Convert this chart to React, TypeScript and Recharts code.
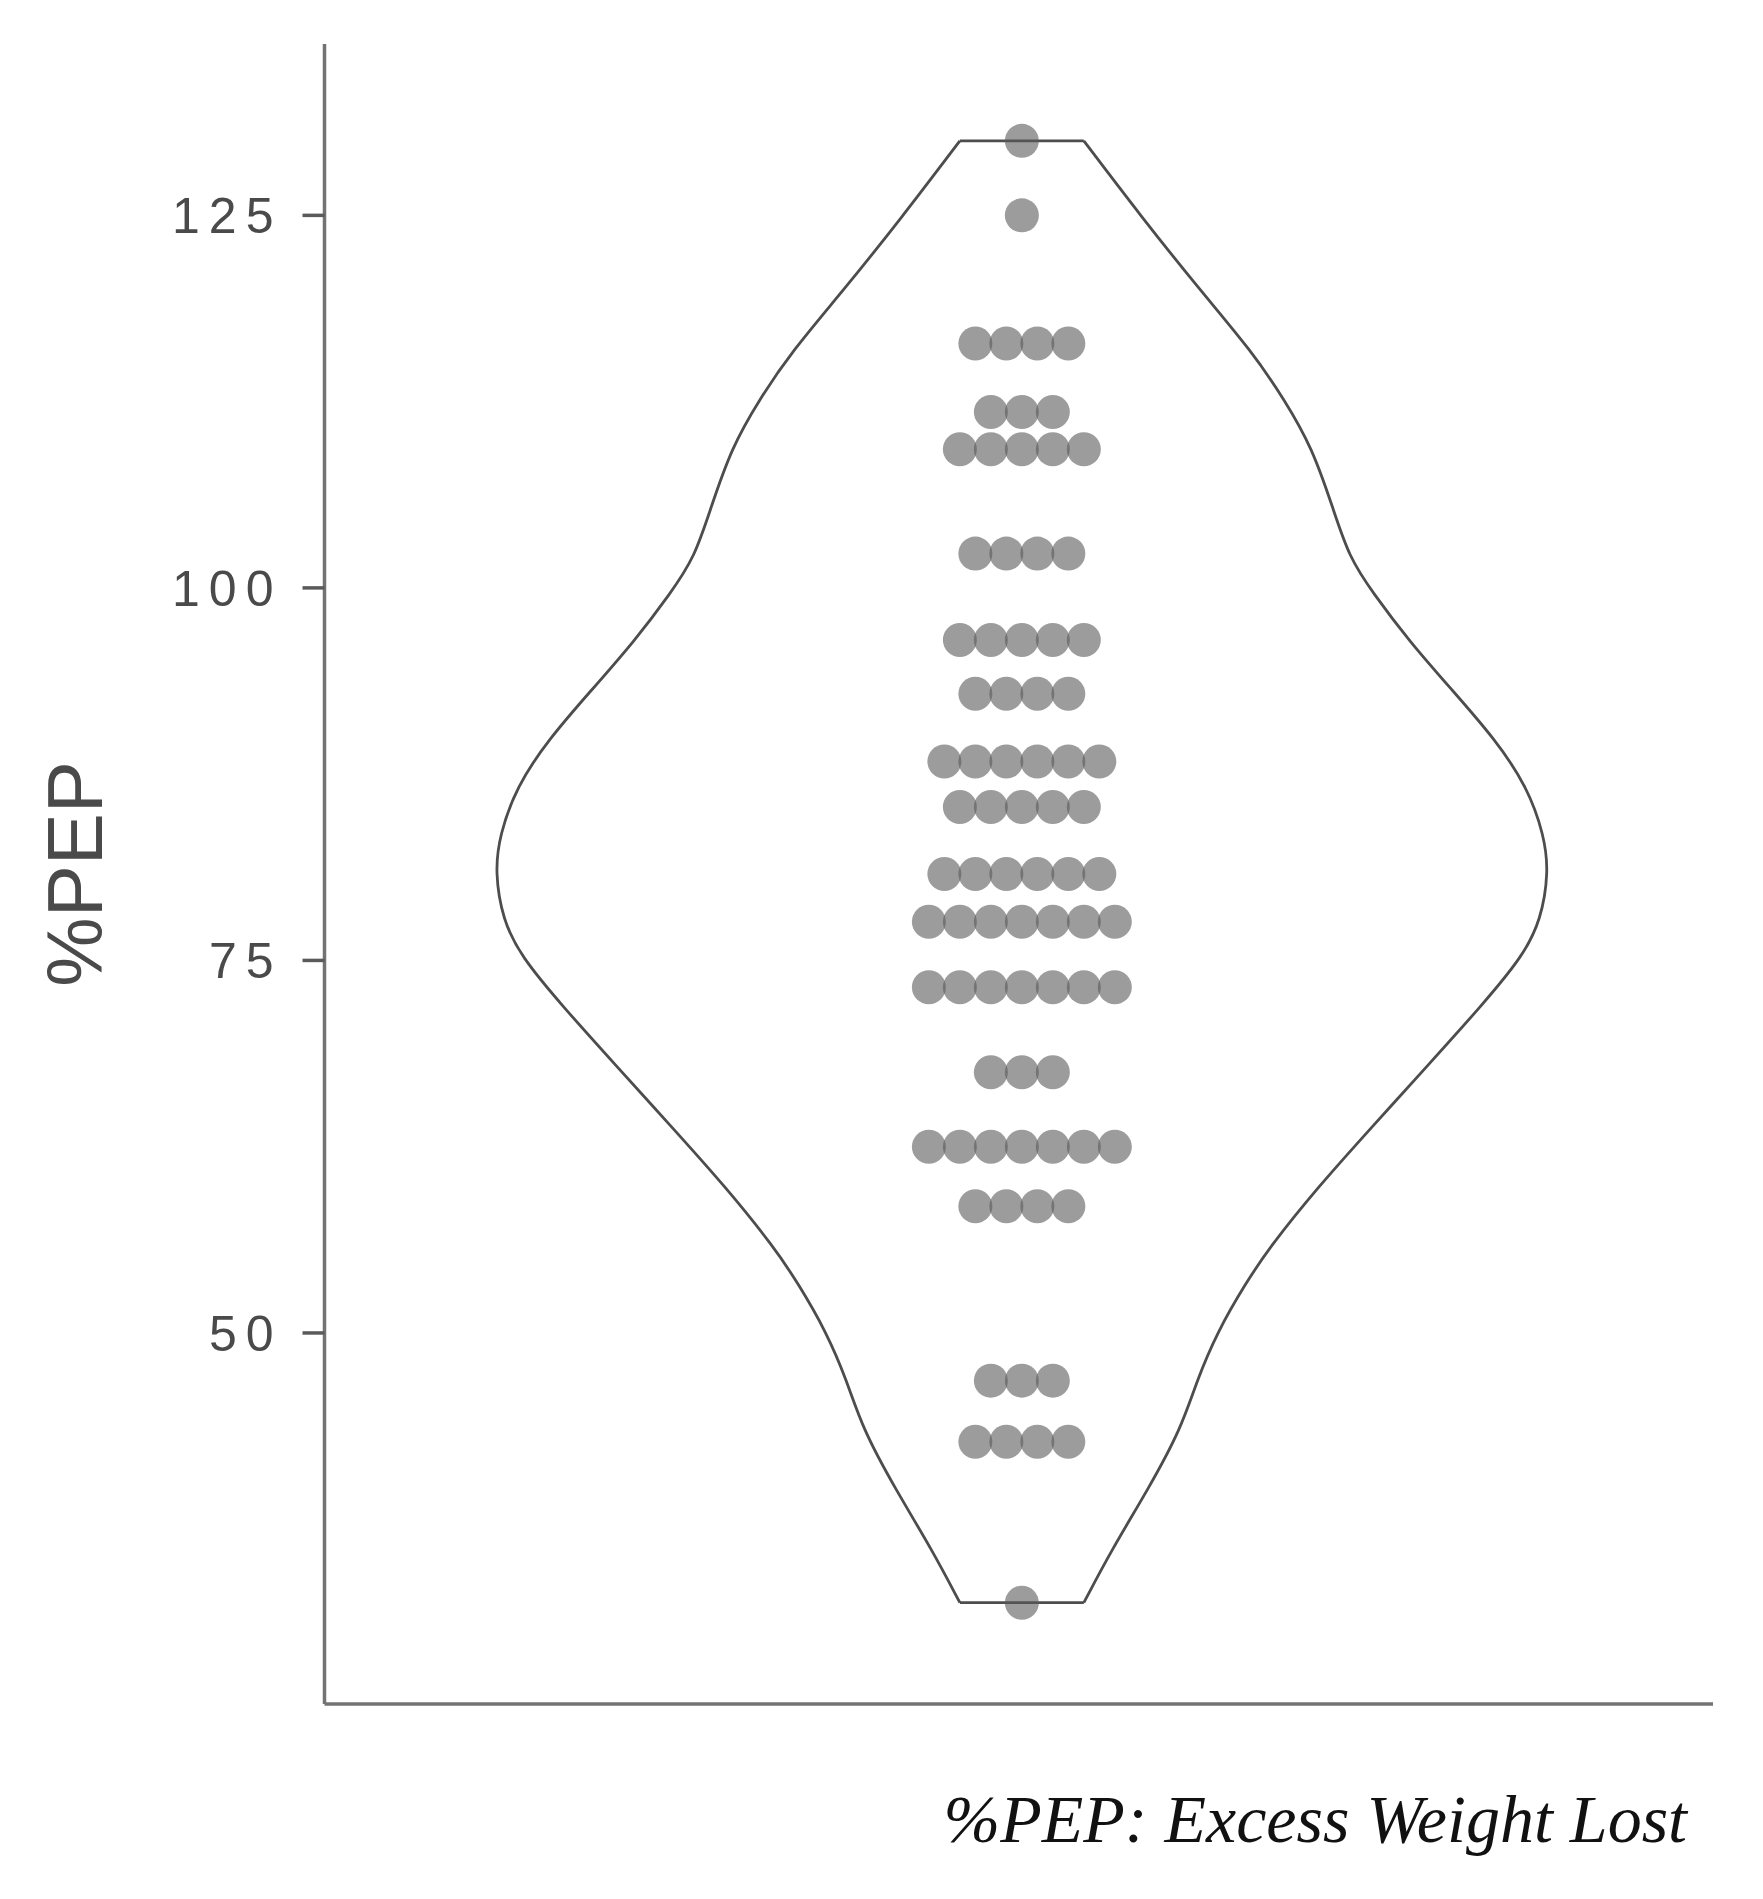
import React from "react";
import { ComposedChart, Scatter, XAxis, YAxis } from "recharts";

// %PEP value of each dot row, and how many patients sit on that row
const rowValues = [130, 125, 116.4, 111.8, 109.3, 102.3, 96.5, 92.9, 88.35, 85.3, 80.8, 77.6, 73.2, 67.5, 62.5, 58.5, 46.8, 42.7, 31.9];
const rowCounts = [1, 1, 4, 3, 5, 4, 5, 4, 6, 5, 6, 7, 7, 3, 7, 4, 3, 4, 1];

// violin outline: density half-width (in dot widths) at each %PEP level
const violinLevels = [130, 124.84, 119.96, 115.9, 112.65, 109.4, 105.34, 102.09, 99.65, 96.4, 93.15, 89.9, 86.65, 83.4, 80.96, 77.71, 75.27, 72.02, 67.96, 63.9, 59.83, 55.77, 53.33, 50.08, 46.83, 43.58, 39.52, 35.46, 31.9];
const violinHalfWidth = [2.0, 3.88, 5.76, 7.41, 8.47, 9.37, 10.04, 10.55, 11.33, 12.51, 13.88, 15.25, 16.31, 16.85, 17.0, 16.75, 16.16, 14.86, 13.1, 11.33, 9.57, 8.0, 7.22, 6.31, 5.65, 5.14, 4.08, 2.9, 2.0];

const yTicks = [50, 75, 100, 125];
const yLabel = "%PEP";
const caption = "%PEP: Excess Weight Lost";

// beeswarm: spread each row's dots side by side around 0
const dots = rowValues.flatMap((v, i) =>
  Array.from({ length: rowCounts[i] }, (_, k) => ({ x: k - (rowCounts[i] - 1) / 2, y: v }))
);
const leftSide = violinLevels.map((v, i) => ({ x: -violinHalfWidth[i], y: v }));
const rightSide = violinLevels.map((v, i) => ({ x: violinHalfWidth[i], y: v }));
const last = violinLevels.length - 1;
const topCap = [
  { x: -violinHalfWidth[0], y: violinLevels[0] },
  { x: violinHalfWidth[0], y: violinLevels[0] },
];
const bottomCap = [
  { x: -violinHalfWidth[last], y: violinLevels[last] },
  { x: violinHalfWidth[last], y: violinLevels[last] },
];

const OUTLINE = "#4d4d4d";
const AXIS = "#737373";
const noShape = () => <g />;
const dotShape = (p: any) => (
  <circle cx={p.cx} cy={p.cy} r={17} fill="#5a5a5a" fillOpacity={0.6} />
);
const outline = { stroke: OUTLINE, strokeWidth: 2.8 };

export default function App() {
  return (
    <div style={{ position: "absolute", left: 0, top: 0, width: 1763, height: 1899, background: "#fff" }}>
      <ComposedChart
        width={1763}
        height={1899}
        margin={{ top: 44, right: 50, bottom: 165, left: 224.5 }}
      >
        <XAxis
          type="number"
          dataKey="x"
          domain={[-22.5, 22.3]}
          allowDataOverflow
          tick={false}
          tickLine={false}
          height={30}
          axisLine={{ stroke: AXIS, strokeWidth: 3.5 }}
        />
        <YAxis
          type="number"
          dataKey="y"
          domain={[25.1, 136.5]}
          allowDataOverflow
          ticks={yTicks}
          width={100}
          tickSize={22}
          tickMargin={20}
          axisLine={{ stroke: AXIS, strokeWidth: 3.5 }}
          tickLine={{ stroke: "#5a5a5a", strokeWidth: 3.5 }}
          tick={{ fill: "#4a4a4a", fontSize: 50, fontFamily: "Liberation Sans, Arial, sans-serif", letterSpacing: 9 }}
          label={{
            content: (props: any) => {
              const vb = props.viewBox;
              const cy = vb.y + vb.height / 2;
              return (
                <text
                  x={75}
                  y={cy}
                  transform={`rotate(-90 75 ${cy})`}
                  textAnchor="middle"
                  dominantBaseline="central"
                  fill="#4a4a4a"
                  fontSize={78}
                  fontFamily="Liberation Sans, Arial, sans-serif"
                >
                  {yLabel}
                </text>
              );
            },
          }}
        />
        <Scatter data={leftSide} isAnimationActive={false} shape={noShape} line={outline} lineJointType="basis" stroke={OUTLINE} />
        <Scatter data={rightSide} isAnimationActive={false} shape={noShape} line={outline} lineJointType="basis" stroke={OUTLINE} />
        <Scatter data={topCap} isAnimationActive={false} shape={noShape} line={outline} stroke={OUTLINE} />
        <Scatter data={bottomCap} isAnimationActive={false} shape={noShape} line={outline} stroke={OUTLINE} />
        <Scatter data={dots} isAnimationActive={false} shape={dotShape} />
      </ComposedChart>
      <div
        style={{
          position: "absolute",
          left: 0,
          width: 1687,
          top: 1785,
          textAlign: "right",
          fontFamily: "Liberation Serif, serif",
          fontStyle: "italic",
          fontSize: 68,
          lineHeight: "68px",
          color: "#111",
          whiteSpace: "nowrap",
        }}
      >
        {caption}
      </div>
    </div>
  );
}
